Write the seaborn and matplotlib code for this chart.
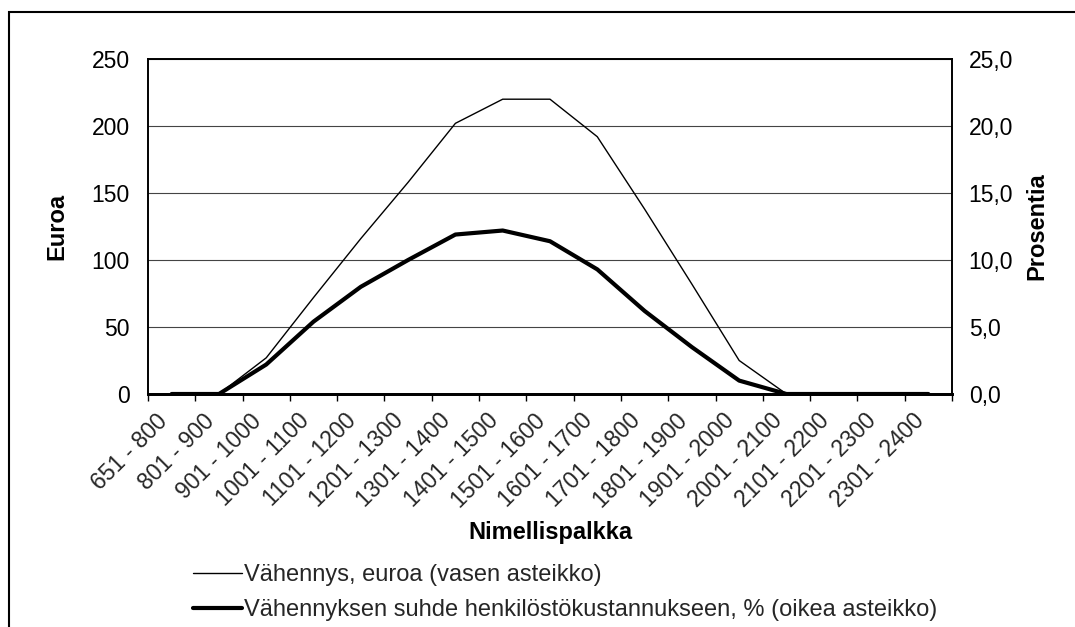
import numpy as np
import seaborn as sns
import matplotlib.pyplot as plt
from matplotlib.lines import Line2D
from matplotlib.patches import Rectangle

# Data
categories = ['651 - 800', '801 - 900', '901 - 1000', '1001 - 1100', '1101 - 1200',
              '1201 - 1300', '1301 - 1400', '1401 - 1500', '1501 - 1600', '1601 - 1700',
              '1701 - 1800', '1801 - 1900', '1901 - 2000', '2001 - 2100', '2101 - 2200',
              '2201 - 2300', '2301 - 2400']
euro = [0, 0, 27, 72, 116, 158, 202, 220, 220, 192, 138, 82, 25, 0, 0, 0, 0]
percent = [0, 0, 2.2, 5.4, 8.0, 10.0, 11.9, 12.2, 11.4, 9.3, 6.2, 3.5, 1.0, 0, 0, 0, 0]
left_ticks = [0, 50, 100, 150, 200, 250]
right_ticks = [0, 5, 10, 15, 20, 25]
legend_labels = ['Vähennys, euroa (vasen asteikko)',
                 'Vähennyksen suhde henkilöstökustannukseen, % (oikea asteikko)']

sns.set_theme(style='white')
plt.rcParams['font.family'] = ['Liberation Sans', 'DejaVu Sans']

fig = plt.figure(figsize=(10.75, 6.27), dpi=100)
ax = fig.add_axes([148 / 1075, 1 - 394 / 627, (952 - 148) / 1075, 335 / 627])

x = np.arange(len(categories))

# Left axis: euros (thin line)
sns.lineplot(x=x, y=euro, ax=ax, color='black', linewidth=1)
ax.set_xlim(-0.5, len(categories) - 0.5)
ax.set_ylim(0, 250)
ax.set_yticks(left_ticks)
ax.set_yticklabels([str(t) for t in left_ticks], fontsize=16.5)
ax.yaxis.grid(True, color='#444444', linewidth=0.8)
ax.xaxis.grid(False)

# Right axis: percent (thick line)
ax2 = ax.twinx()
sns.lineplot(x=x, y=percent, ax=ax2, color='black', linewidth=3)
ax2.set_ylim(0, 25)
ax2.set_yticks(right_ticks)
ax2.set_yticklabels([f'{t:.1f}'.replace('.', ',') for t in right_ticks], fontsize=16.5)
ax2.grid(False)

# Category ticks between the categories, labels at the centers
ax.set_xticks(x)
ax.set_xticklabels(categories, rotation=45, ha='right', fontsize=16.5)
ax.set_xticks(np.arange(-0.5, len(categories), 1), minor=True)
ax.tick_params(axis='x', which='major', length=0, pad=11)
ax.tick_params(axis='x', which='minor', length=5, width=1, color='black', direction='out', bottom=True)
ax.tick_params(axis='y', length=0, pad=13, colors='black')
ax2.tick_params(axis='y', length=0, pad=12, colors='black')

for a in (ax, ax2):
    for s in a.spines.values():
        s.set_color('black')
        s.set_linewidth(1.2)
    a.spines['bottom'].set_linewidth(2)

ax.set_xlabel('Nimellispalkka', fontsize=17, fontweight='bold', color='black')
ax.xaxis.set_label_coords(0.5, (394 - 532) / 335)
ax.xaxis.label.set_va('center')
ax.set_ylabel('Euroa', fontsize=17, fontweight='bold', color='black')
ax.yaxis.set_label_coords((57 - 148) / 804, 0.5)
ax.yaxis.label.set_va('center')
ax2.set_ylabel('Prosentia', fontsize=17, fontweight='bold', color='black')
ax2.yaxis.set_label_coords((1037 - 148) / 804, 0.5)
ax2.yaxis.label.set_va('center')

# Legend below the chart
handles = [Line2D([], [], color='black', linewidth=1),
           Line2D([], [], color='black', linewidth=3)]
fig.legend(handles, legend_labels, loc='center left',
           bbox_to_anchor=(193 / 1075, 1 - 592.5 / 627), frameon=False,
           fontsize=17, handlelength=2.07, handletextpad=0.1,
           labelspacing=0.56, borderpad=0, borderaxespad=0)

# Chart border (cut off at right and bottom as in the reference)
fig.patches.append(Rectangle((9 / 1075, -0.1), 1.2, 1 - 12 / 627 + 0.1,
                             transform=fig.transFigure, fill=False,
                             edgecolor='black', linewidth=1.5))

fig.savefig('out.png', dpi=100)
